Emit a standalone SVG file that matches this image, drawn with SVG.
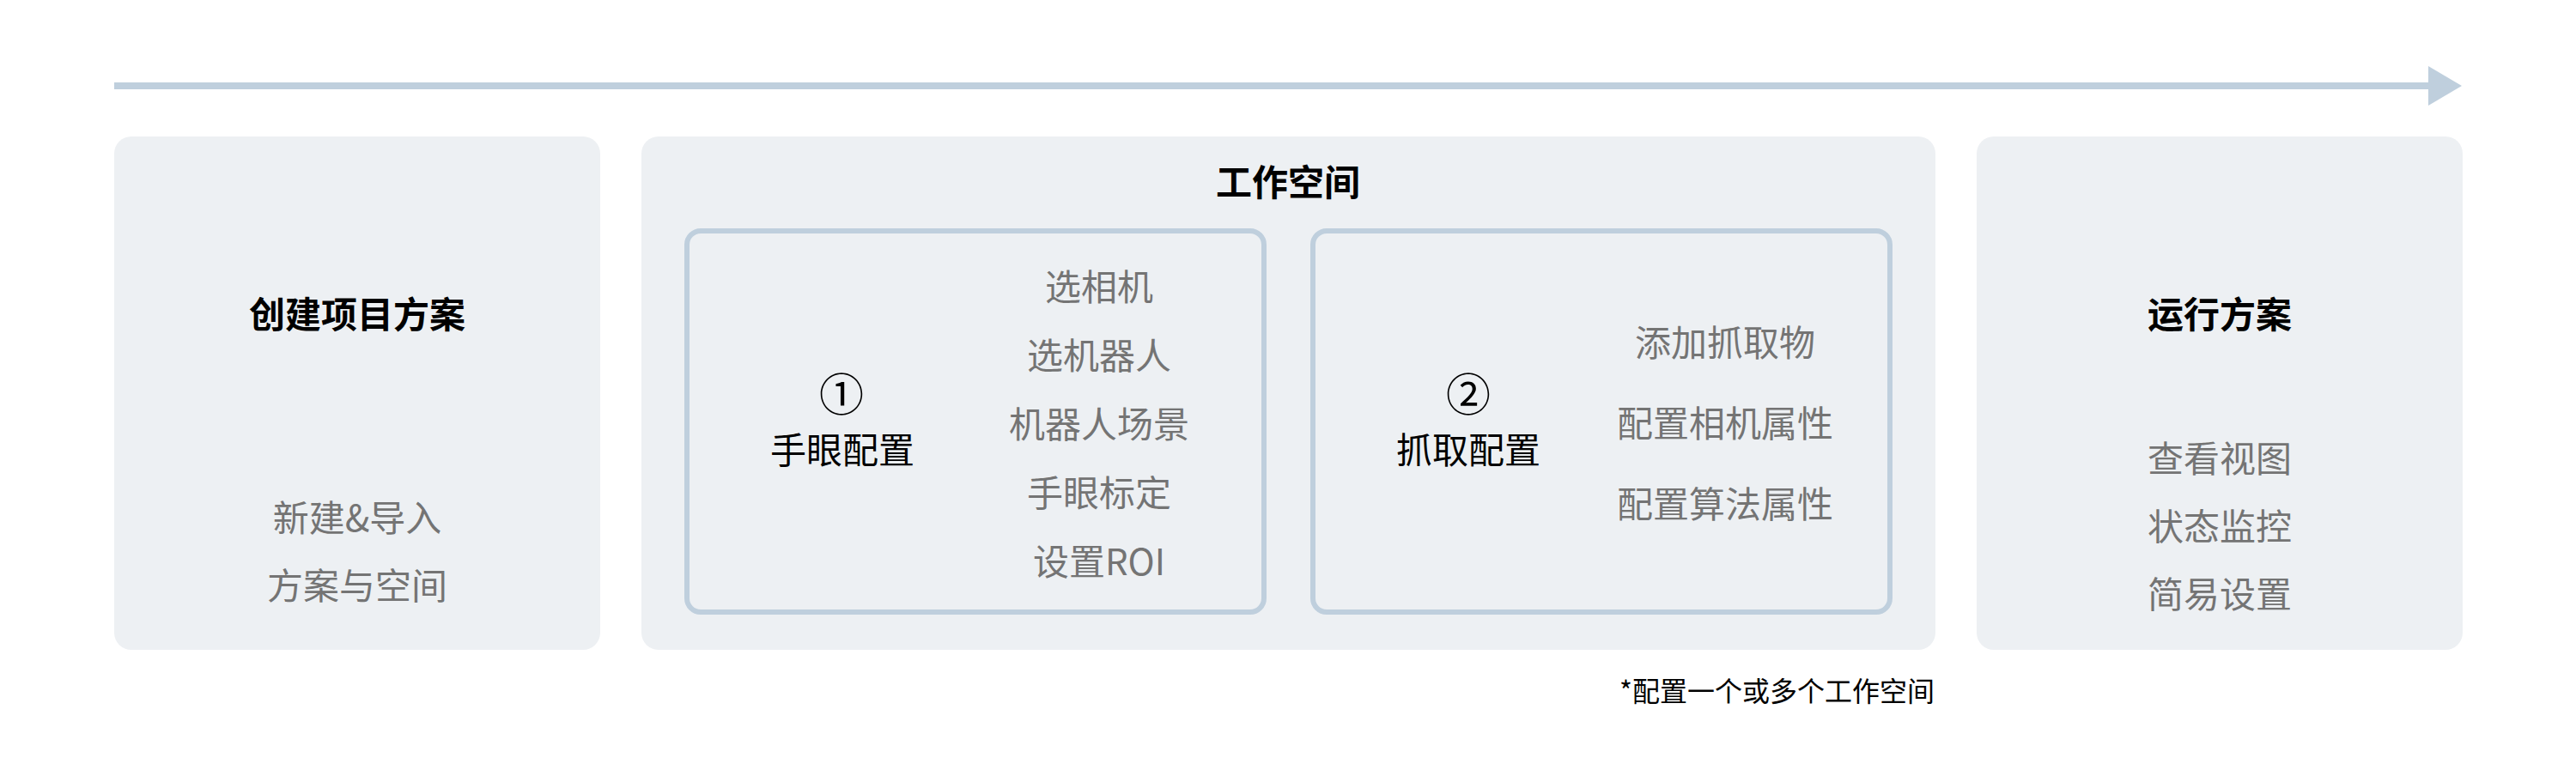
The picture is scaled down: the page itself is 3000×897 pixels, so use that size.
<svg xmlns="http://www.w3.org/2000/svg" width="3000" height="897" viewBox="0 0 3000 897">
  <style>
    .panel { fill: #EDF0F3; }
    .sub { fill: none; stroke: #BFCFDD; stroke-width: 6; }
    .flow { stroke: #BFCFDD; stroke-width: 8; fill: none; }
    text { font-family: "Noto Sans CJK SC", "Noto Sans", sans-serif; text-anchor: middle; dominant-baseline: central; }
    .title { font-size: 42px; font-weight: 700; fill: #000000; }
    .label { font-size: 42px; font-weight: 400; fill: #000000; }
    .num { font-size: 52px; font-weight: 400; fill: #000000; }
    .item { font-size: 42px; font-weight: 400; fill: #747474; }
    .note { font-size: 32px; font-weight: 400; fill: #000000; text-anchor: end; }
  </style>
  <defs>
    <marker id="arrowhead" markerUnits="userSpaceOnUse" viewBox="0 0 39 46" refX="0" refY="23" markerWidth="39" markerHeight="46" orient="auto">
      <path d="M0,0 L39,23 L0,46 Z" fill="#BFCFDD"/>
    </marker>
  </defs>
  <rect width="3000" height="897" fill="#FFFFFF"/>

  <g id="connectors">
    <line class="flow" x1="133" y1="100" x2="2828" y2="100" marker-end="url(#arrowhead)"/>
  </g>

  <g id="create-project">
    <rect class="panel" x="133" y="159" width="566" height="598" rx="20"/>
    <text class="title" x="416" y="363">创建项目方案</text>
    <text class="item" x="416" y="600">新建&amp;导入</text>
    <text class="item" x="416" y="679">方案与空间</text>
  </g>

  <g id="workspace">
    <rect class="panel" x="747" y="159" width="1507" height="598" rx="20"/>
    <text class="title" x="1500" y="209">工作空间</text>
  </g>

  <g id="hand-eye-config">
    <rect class="sub" x="800" y="269" width="672" height="444" rx="16"/>
    <text class="num" x="980" y="456">①</text>
    <text class="label" x="981" y="521">手眼配置</text>
    <text class="item" x="1280" y="331">选相机</text>
    <text class="item" x="1280" y="411">选机器人</text>
    <text class="item" x="1280" y="491">机器人场景</text>
    <text class="item" x="1280" y="571">手眼标定</text>
    <text class="item" x="1280" y="651">设置ROI</text>
  </g>

  <g id="grasp-config">
    <rect class="sub" x="1529" y="269" width="672" height="444" rx="16"/>
    <text class="num" x="1710" y="456">②</text>
    <text class="label" x="1710" y="521">抓取配置</text>
    <text class="item" x="2009" y="396">添加抓取物</text>
    <text class="item" x="2009" y="490">配置相机属性</text>
    <text class="item" x="2009" y="584">配置算法属性</text>
  </g>

  <g id="run-project">
    <rect class="panel" x="2302" y="159" width="566" height="598" rx="20"/>
    <text class="title" x="2585" y="363">运行方案</text>
    <text class="item" x="2585" y="531">查看视图</text>
    <text class="item" x="2585" y="610">状态监控</text>
    <text class="item" x="2585" y="689">简易设置</text>
  </g>

  <g id="footnote">
    <text class="note" x="2253" y="803">*配置一个或多个工作空间</text>
  </g>
</svg>
